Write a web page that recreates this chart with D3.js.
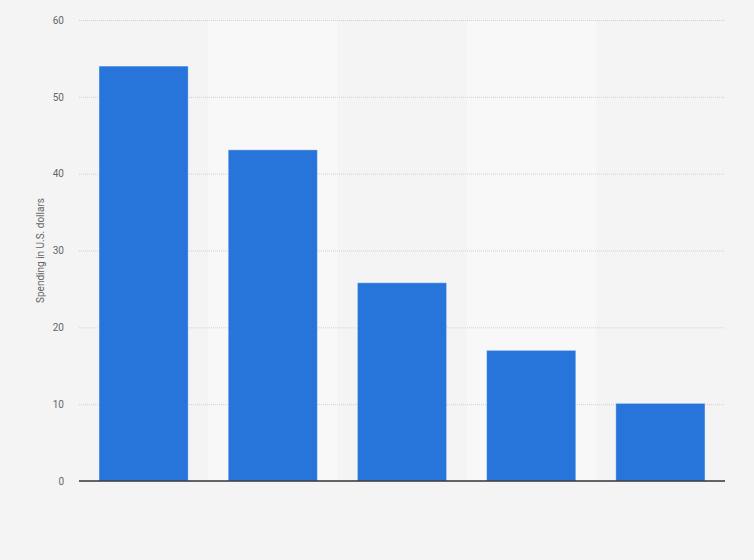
<!DOCTYPE html>
<html>
<head>
<meta charset="utf-8">
<script src="https://cdn.jsdelivr.net/npm/d3@7/dist/d3.min.js"></script>
<style>
html,body{margin:0;padding:0;background:#f4f4f4;}
svg{display:block;}
</style>
</head>
<body>
<svg id="chart" width="754" height="560"></svg>
<script>
const categories = ["A", "B", "C", "D", "E"];
const values = [54, 43.1, 25.8, 17, 10.1];
const yTicks = [0, 10, 20, 30, 40, 50, 60];
const yTitle = "Spending in U.S. dollars";

const W = 754, H = 560;
const margin = {top: 20, right: 29, bottom: 79, left: 79};
const svg = d3.select("#chart");
svg.append("rect").attr("width", W).attr("height", H).attr("fill", "#f4f4f4");

const x = d3.scaleBand().domain(categories)
  .range([margin.left, W - margin.right]).paddingInner(0.31).paddingOuter(0.155);
const xBand = d3.scaleBand().domain(categories)
  .range([margin.left, W - margin.right]).padding(0);
const y = d3.scaleLinear().domain([0, 60]).range([H - margin.bottom, margin.top]);

// alternating light bands
svg.append("g").selectAll("rect")
  .data(categories.filter((d, i) => i % 2 === 1))
  .join("rect")
  .attr("x", d => xBand(d))
  .attr("width", xBand.bandwidth())
  .attr("y", y(60))
  .attr("height", y(0) - y(60))
  .attr("fill", "#f8f8f8");

// gridlines
const grid = svg.append("g")
  .attr("transform", `translate(${margin.left},0)`)
  .call(d3.axisLeft(y).tickValues(yTicks.filter(t => t > 0)).tickSize(-(W - margin.left - margin.right)).tickFormat(""));
grid.select(".domain").remove();
grid.selectAll("line").attr("stroke", "#cfcfcf").attr("stroke-dasharray", "1,1").attr("stroke-width", 1);

// y tick labels
const yAxis = svg.append("g")
  .attr("transform", `translate(${margin.left},0)`)
  .call(d3.axisLeft(y).tickValues(yTicks).tickSize(0).tickPadding(15).tickFormat(d3.format("d")));
yAxis.select(".domain").remove();
yAxis.selectAll("text")
  .attr("font-family", "Roboto, Arial, sans-serif")
  .attr("font-size", 10)
  .attr("fill", "#666");

// bars
svg.append("g").selectAll("rect")
  .data(categories)
  .join("rect")
  .attr("x", d => x(d))
  .attr("width", x.bandwidth())
  .attr("y", (d, i) => y(values[i]))
  .attr("height", (d, i) => y(0) - y(values[i]))
  .attr("fill", "#2775db")
  .attr("stroke", "#ffffff")
  .attr("stroke-opacity", 0.35)
  .attr("stroke-width", 1);

// baseline
svg.append("line")
  .attr("x1", margin.left).attr("x2", W - margin.right)
  .attr("y1", y(0)).attr("y2", y(0))
  .attr("stroke", "#333").attr("stroke-width", 1.5);

// y title
svg.append("text")
  .attr("transform", `translate(44,${(y(0) + y(60)) / 2}) rotate(-90)`)
  .attr("text-anchor", "middle")
  .attr("font-family", "Roboto, Arial, sans-serif")
  .attr("font-size", 10)
  .attr("fill", "#666")
  .text(yTitle);
</script>
</body>
</html>
